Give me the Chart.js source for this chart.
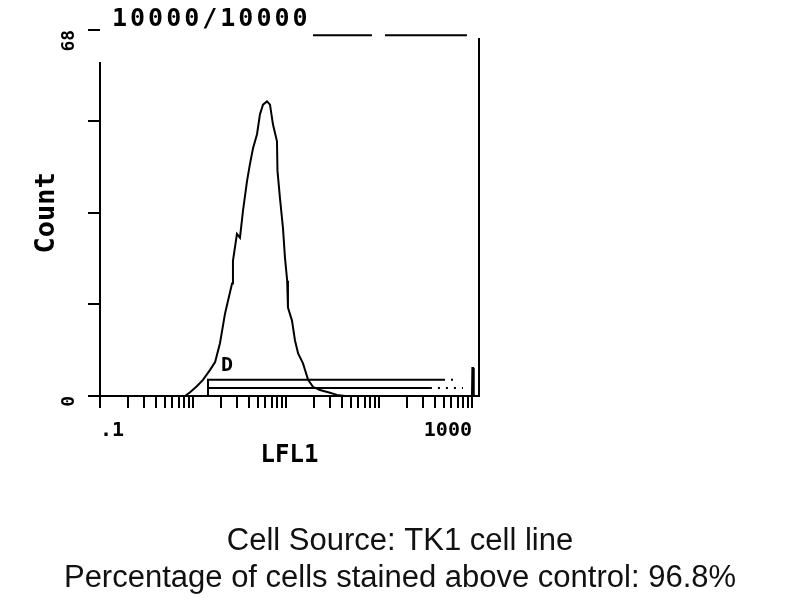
<!DOCTYPE html>
<html>
<head>
<meta charset="utf-8">
<script src="https://cdn.jsdelivr.net/npm/chart.js@4.4.1/dist/chart.umd.min.js"></script>
<style>
  html, body { margin: 0; padding: 0; background: #fff; }
  #wrap { width: 800px; height: 600px; }
</style>
</head>
<body>
<div id="wrap"><canvas id="myChart"></canvas></div>
<script>
const headerText = '10000/10000'
const captionLines = ['Cell Source: TK1 cell line', 'Percentage of cells stained above control: 96.8%']

// histogram: LFL1 value (log axis) and count
const lfl1 = [0.1, 0.82, 0.93, 1.10, 1.28, 1.52, 1.73, 1.95, 2.21, 2.38, 2.63, 2.69, 2.97, 3.20, 3.45, 3.81, 4.10, 4.42, 4.88, 5.25, 5.66, 6.25, 6.73, 7.25, 8.0, 8.1, 8.61, 9.28, 9.75, 10.3, 10.5, 11.6, 12.5, 13.5, 15.2, 17.3, 19.5, 23.2, 29.7, 35.3, 43.0, 1000, 1010, 1030, 1045]
const counts = [0, 0, 0.7, 1.8, 3.0, 4.8, 6.3, 9.8, 15.3, 17.7, 20.9, 25.1, 30.1, 29.4, 34.4, 39.9, 43.1, 46.0, 48.6, 52.3, 54.1, 54.7, 54.1, 50.4, 47.3, 41.8, 36.8, 31.2, 25.7, 21.4, 16.4, 14.0, 10.3, 7.9, 6.1, 3.0, 1.7, 1.1, 0.6, 0.2, 0, 0, 5.2, 5.2, 0]

// gate markers
const gateStart = 1.45
const gateUpper = {level: 3.0, end: 488, dotsEnd: 700}
const gateLower = {level: 1.5, end: 353, dotsEnd: 800}
const gateLabel = {text: 'D', x: 2.0, y: 5.6}

// tick values
const xTicks = [0.1, 0.2, 0.3, 0.4, 0.5, 0.6, 0.7, 0.8, 0.9, 1, 2, 3, 4, 5, 6, 7, 8, 9, 10, 20, 30, 40, 50, 60, 70, 80, 90, 100, 200, 300, 400, 500, 600, 700, 800, 900, 1000]
const xLabels = {0.1: '.1', 1000: '1000'}
const yTicks = [0, 17, 34, 51, 68]
const yLabels = {0: '0', 68: '68'}

// broken frame of the scanned plot (data units)
const leftEdgeTop = 62
const topEdge = {level: 67, pieces: [[19.5, 84], [116, 883]]}
const rightEdgeTop = 66.5

const mono = '"DejaVu Sans Mono", monospace'
const ctx = document.getElementById('myChart')

const frame = {
    id: 'frame',
    afterDatasetsDraw(chart) {
        const c = chart.ctx
        const a = chart.chartArea
        const x = chart.scales.x
        const y = chart.scales.y
        c.save()
        c.strokeStyle = '#000'
        c.lineWidth = 2
        c.beginPath()
        c.moveTo(a.left, y.getPixelForValue(leftEdgeTop))
        c.lineTo(a.left, a.bottom)
        topEdge.pieces.forEach(p => {
            c.moveTo(x.getPixelForValue(p[0]), y.getPixelForValue(topEdge.level))
            c.lineTo(x.getPixelForValue(p[1]), y.getPixelForValue(topEdge.level))
        })
        c.moveTo(a.right, y.getPixelForValue(rightEdgeTop))
        c.lineTo(a.right, a.bottom)
        c.stroke()

        c.fillStyle = '#000'
        c.textBaseline = 'middle'
        c.font = 'bold 25px ' + mono
        c.letterSpacing = '3px'
        c.fillText(headerText, a.left + 12, a.top - 10)
        c.letterSpacing = '0px'
        c.font = 'bold 20px ' + mono
        c.fillText(gateLabel.text, x.getPixelForValue(gateLabel.x), y.getPixelForValue(gateLabel.y))
        c.restore()
    }
}

const line = (data, dash) => ({
    data: data,
    borderColor: '#000',
    borderWidth: 2,
    borderDash: dash || [],
    pointRadius: 0,
    fill: false,
    tension: 0
})

new Chart(ctx, {
    type: 'line',
    data: {
        datasets: [
            line(lfl1.map((v, i) => ({x: v, y: counts[i]}))),
            line([{x: gateStart, y: 0}, {x: gateStart, y: gateUpper.level}, {x: gateUpper.end, y: gateUpper.level}]),
            line([{x: gateStart, y: gateLower.level}, {x: gateLower.end, y: gateLower.level}]),
            line([{x: gateUpper.end, y: gateUpper.level}, {x: gateUpper.dotsEnd, y: gateUpper.level}], [2, 6]),
            line([{x: gateLower.end, y: gateLower.level}, {x: gateLower.dotsEnd, y: gateLower.level}], [2, 6])
        ]
    },
    options: {
        responsive: true,
        maintainAspectRatio: false,
        animation: false,
        layout: { padding: { top: 26, left: 0, right: 0, bottom: 0 } },
        plugins: {
            legend: { display: false },
            tooltip: { enabled: false },
            title: {
                display: true,
                position: 'bottom',
                text: captionLines,
                color: '#111',
                font: { family: '"Liberation Sans", Arial, sans-serif', size: 31, weight: 'normal', lineHeight: 1.194 },
                padding: { top: 52.6, bottom: 3 }
            }
        },
        scales: {
            x: {
                type: 'logarithmic',
                min: 0.1,
                max: 1190,
                afterBuildTicks: s => { s.ticks = xTicks.map(v => ({value: v})) },
                ticks: {
                    autoSkip: false,
                    minRotation: 0,
                    maxRotation: 0,
                    align: 'inner',
                    padding: 12,
                    color: '#000',
                    font: { family: mono, size: 20, weight: 'bold', lineHeight: 1.08 },
                    callback: v => xLabels[v] || ''
                },
                grid: { display: true, drawOnChartArea: false, tickLength: 12, color: '#000', lineWidth: 2 },
                border: { display: true, color: '#000', width: 2 },
                title: {
                    display: true,
                    text: 'LFL1',
                    color: '#000',
                    font: { family: mono, size: 24, weight: 'bold' },
                    padding: { top: -12, bottom: 0 }
                }
            },
            y: {
                min: 0,
                max: 68,
                afterBuildTicks: s => { s.ticks = yTicks.map(v => ({value: v})) },
                afterFit: s => { s.width = 100 },
                ticks: {
                    minRotation: 90,
                    maxRotation: 90,
                    padding: 19,
                    color: '#000',
                    font: { family: mono, size: 18, weight: 'bold' },
                    callback: v => yLabels[v] || ''
                },
                grid: { display: true, drawOnChartArea: false, tickLength: 12, color: '#000', lineWidth: 2 },
                border: { display: false },
                title: {
                    display: true,
                    text: 'Count',
                    color: '#000',
                    font: { family: mono, size: 27, weight: 'bold' },
                    padding: { top: 31, bottom: 0 }
                }
            },
            yRight: {
                position: 'right',
                afterFit: s => { s.width = 321 },
                ticks: { display: false },
                grid: { display: false },
                border: { display: false }
            }
        }
    },
    plugins: [frame]
})
</script>
</body>
</html>
